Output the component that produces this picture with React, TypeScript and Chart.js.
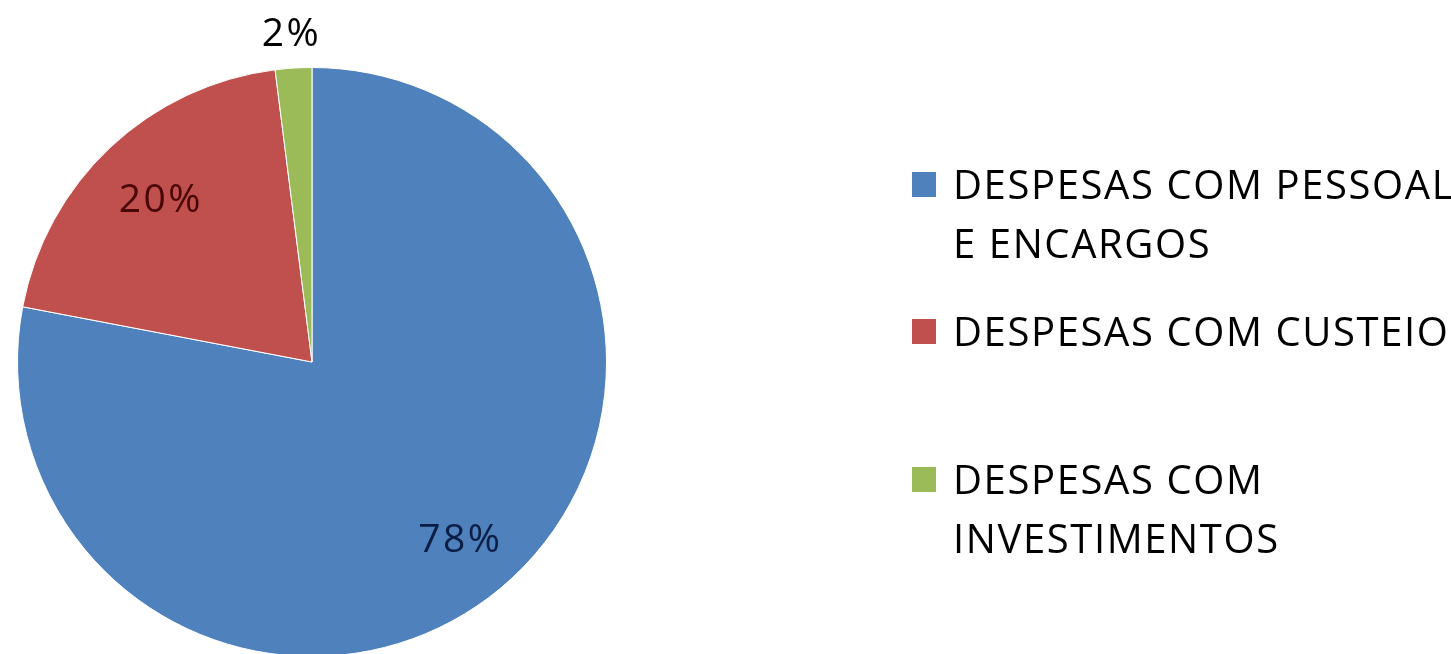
import React, { useEffect, useRef } from "react";
import { Chart, registerables } from "chart.js";

Chart.register(...registerables);

// ---- data ----
const categories: string[][] = [
  ["DESPESAS COM PESSOAL", "E ENCARGOS"],
  ["DESPESAS COM CUSTEIO"],
  ["DESPESAS COM", "INVESTIMENTOS"],
];
const values: number[] = [78, 20, 2];

// ---- styles ----
const sliceColors = ["#4F81BD", "#C0504D", "#9BBB59"];
const labelColors = ["#0A1E46", "#4A0505", "#000000"];
const labelRadiusFraction = [0.79, 0.75, 1.114];
const legendLineY = [[187, 246], [334], [482, 541]];
const FONT = "'Open Sans', 'Liberation Sans', sans-serif";

const W = 1451;
const H = 680;

const percentLabelPlugin = {
  id: "percentLabels",
  afterDatasetsDraw(chart: any) {
    const ctx = chart.ctx;
    const meta = chart.getDatasetMeta(0);
    const data = chart.data.datasets[0].data as number[];
    const total = data.reduce((a, b) => a + b, 0);
    ctx.save();
    ctx.font = `39px ${FONT}`;
    (ctx as any).letterSpacing = "2.5px";
    ctx.textAlign = "center";
    ctx.textBaseline = "middle";
    meta.data.forEach((arc: any, i: number) => {
      const p = arc.getProps(["x", "y", "startAngle", "endAngle", "outerRadius"], true);
      const mid = (p.startAngle + p.endAngle) / 2;
      const r = p.outerRadius * labelRadiusFraction[i];
      const x = p.x + Math.cos(mid) * r;
      const y = p.y + Math.sin(mid) * r;
      ctx.fillStyle = labelColors[i];
      ctx.fillText(Math.round((data[i] / total) * 100) + "%", x, y);
    });
    ctx.restore();
  },
};

const legendPlugin = {
  id: "sideLegend",
  afterDraw(chart: any) {
    const ctx = chart.ctx;
    const labels = chart.data.labels as string[][];
    const colors = chart.data.datasets[0].backgroundColor as string[];
    ctx.save();
    ctx.font = `40px ${FONT}`;
    (ctx as any).letterSpacing = "1.6px";
    ctx.textAlign = "left";
    ctx.textBaseline = "middle";
    labels.forEach((lines, i) => {
      const ys = legendLineY[i];
      ctx.fillStyle = colors[i];
      ctx.fillRect(912, ys[0] - 15, 24, 25);
      ctx.fillStyle = "#000000";
      lines.forEach((t, j) => {
        ctx.fillText(t, 953, ys[j] + 1);
      });
    });
    ctx.restore();
  },
};

export default function App() {
  const ref = useRef<HTMLCanvasElement | null>(null);
  useEffect(() => {
    if (!ref.current) return;
    const chart = new Chart(ref.current, {
      type: "pie",
      data: {
        labels: categories as any,
        datasets: [
          {
            data: values,
            backgroundColor: sliceColors,
            borderColor: "#ffffff",
            borderWidth: 1,
          },
        ],
      },
      options: {
        animation: false,
        responsive: false,
        devicePixelRatio: 1,
        layout: { padding: { top: 67, left: 17, right: W - 607, bottom: H - 657 } },
        plugins: {
          legend: { display: false },
          tooltip: { enabled: false },
        },
      },
      plugins: [percentLabelPlugin, legendPlugin],
    });
    return () => chart.destroy();
  }, []);
  return (
    <div
      style={{
        position: "fixed",
        left: 0,
        top: 0,
        width: W,
        height: 654,
        overflow: "hidden",
        background: "#ffffff",
      }}
    >
      <canvas ref={ref} width={W} height={H} style={{ display: "block", width: W, height: H }} />
    </div>
  );
}
